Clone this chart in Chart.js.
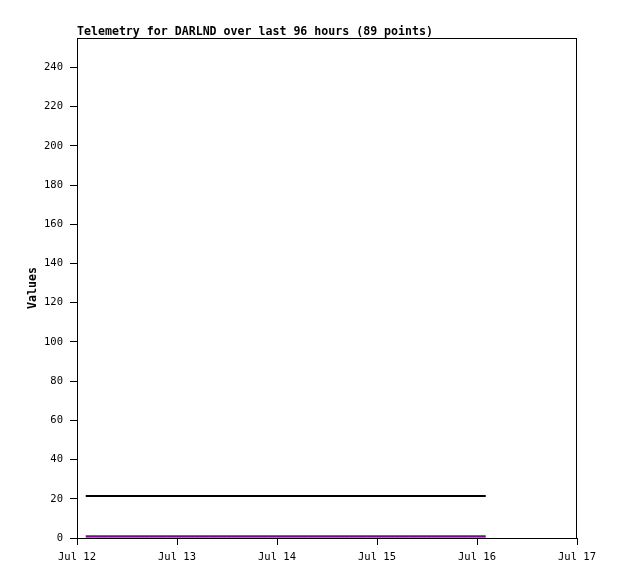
<!DOCTYPE html>
<html lang="en">
	<head>
		<meta charset="UTF-8" />
		<title>Telemetry</title>
		<script src="https://cdn.jsdelivr.net/npm/chart.js"></script>
		<style>
			html,
			body {
				margin: 0;
				padding: 0;
				background: #ffffff;
			}
			#chart {
				display: block;
			}
		</style>
	</head>
	<body>
		<canvas id="chart" width="618" height="579"></canvas>

		<script>
			// x axis: hours since Jul 12 00:00, one tick per day
			var dayLabels = ["Jul 12", "Jul 13", "Jul 14", "Jul 15", "Jul 16", "Jul 17"];
			var firstHour = 2.1; // first sample
			var sampleStep = 96 / 88; // 89 samples over 96 hours

			// three flat telemetry series, 89 samples each
			var blackValues = [
				21.4, 21.4, 21.4, 21.4, 21.4, 21.4, 21.4, 21.4, 21.4, 21.4,
				21.4, 21.4, 21.4, 21.4, 21.4, 21.4, 21.4, 21.4, 21.4, 21.4,
				21.4, 21.4, 21.4, 21.4, 21.4, 21.4, 21.4, 21.4, 21.4, 21.4,
				21.4, 21.4, 21.4, 21.4, 21.4, 21.4, 21.4, 21.4, 21.4, 21.4,
				21.4, 21.4, 21.4, 21.4, 21.4, 21.4, 21.4, 21.4, 21.4, 21.4,
				21.4, 21.4, 21.4, 21.4, 21.4, 21.4, 21.4, 21.4, 21.4, 21.4,
				21.4, 21.4, 21.4, 21.4, 21.4, 21.4, 21.4, 21.4, 21.4, 21.4,
				21.4, 21.4, 21.4, 21.4, 21.4, 21.4, 21.4, 21.4, 21.4, 21.4,
				21.4, 21.4, 21.4, 21.4, 21.4, 21.4, 21.4, 21.4, 21.4,
			];
			var purpleValues = [
				0.9, 0.9, 0.9, 0.9, 0.9, 0.9, 0.9, 0.9, 0.9, 0.9,
				0.9, 0.9, 0.9, 0.9, 0.9, 0.9, 0.9, 0.9, 0.9, 0.9,
				0.9, 0.9, 0.9, 0.9, 0.9, 0.9, 0.9, 0.9, 0.9, 0.9,
				0.9, 0.9, 0.9, 0.9, 0.9, 0.9, 0.9, 0.9, 0.9, 0.9,
				0.9, 0.9, 0.9, 0.9, 0.9, 0.9, 0.9, 0.9, 0.9, 0.9,
				0.9, 0.9, 0.9, 0.9, 0.9, 0.9, 0.9, 0.9, 0.9, 0.9,
				0.9, 0.9, 0.9, 0.9, 0.9, 0.9, 0.9, 0.9, 0.9, 0.9,
				0.9, 0.9, 0.9, 0.9, 0.9, 0.9, 0.9, 0.9, 0.9, 0.9,
				0.9, 0.9, 0.9, 0.9, 0.9, 0.9, 0.9, 0.9, 0.9,
			];
			var cyanValues = [
				0.2, 0.2, 0.2, 0.2, 0.2, 0.2, 0.2, 0.2, 0.2, 0.2,
				0.2, 0.2, 0.2, 0.2, 0.2, 0.2, 0.2, 0.2, 0.2, 0.2,
				0.2, 0.2, 0.2, 0.2, 0.2, 0.2, 0.2, 0.2, 0.2, 0.2,
				0.2, 0.2, 0.2, 0.2, 0.2, 0.2, 0.2, 0.2, 0.2, 0.2,
				0.2, 0.2, 0.2, 0.2, 0.2, 0.2, 0.2, 0.2, 0.2, 0.2,
				0.2, 0.2, 0.2, 0.2, 0.2, 0.2, 0.2, 0.2, 0.2, 0.2,
				0.2, 0.2, 0.2, 0.2, 0.2, 0.2, 0.2, 0.2, 0.2, 0.2,
				0.2, 0.2, 0.2, 0.2, 0.2, 0.2, 0.2, 0.2, 0.2, 0.2,
				0.2, 0.2, 0.2, 0.2, 0.2, 0.2, 0.2, 0.2, 0.2,
			];

			var titleText = "Telemetry for DARLND over last 96 hours (89 points)";
			var yTitle = "Values";
			var monoFont = "'DejaVu Sans Mono', 'Liberation Mono', monospace";

			function toPoints(values) {
				return values.map(function (v, i) {
					return { x: firstHour + i * sampleStep, y: v };
				});
			}

			// frame, title and rotated y title
			var framePlugin = {
				id: "frame",
				afterDraw: function (chart) {
					var ctx = chart.ctx;
					var a = chart.chartArea;
					ctx.save();
					ctx.strokeStyle = "#000000";
					ctx.lineWidth = 1;
					ctx.strokeRect(a.left + 0.5, a.top + 0.5, a.right - a.left - 1, a.bottom - a.top);
					ctx.fillStyle = "#000000";
					ctx.font = "bold 11.6px " + monoFont;
					ctx.textAlign = "left";
					ctx.textBaseline = "alphabetic";
					ctx.fillText(titleText, a.left, 35);
					ctx.translate(36, (a.top + a.bottom) / 2);
					ctx.rotate(-Math.PI / 2);
					ctx.textAlign = "center";
					ctx.fillText(yTitle, 0, 0);
					ctx.restore();
				},
			};

			var ctx = document.getElementById("chart").getContext("2d");
			var chart = new Chart(ctx, {
				type: "line",
				plugins: [framePlugin],
				data: {
					datasets: [
						{
							data: toPoints(cyanValues),
							borderColor: "#1aa3e8",
							borderWidth: 1,
							pointRadius: 0,
						},
						{
							data: toPoints(purpleValues),
							borderColor: "#7a0a8c",
							borderWidth: 2,
							pointRadius: 0,
						},
						{
							data: toPoints(blackValues),
							borderColor: "#000000",
							borderWidth: 2,
							pointRadius: 0,
						},
					],
				},
				options: {
					responsive: false,
					animation: false,
					layout: {
						padding: { left: 0, right: 41, top: 38, bottom: 0 },
					},
					plugins: {
						legend: { display: false },
						tooltip: { enabled: false },
					},
					scales: {
						x: {
							type: "linear",
							min: 0,
							max: 120,
							afterFit: function (scale) {
								scale.height = 41;
							},
							afterBuildTicks: function (scale) {
								scale.ticks = dayLabels.map(function (d, i) {
									return { value: i * 24 };
								});
							},
							ticks: {
								color: "#000000",
								font: { family: monoFont, size: 10.5 },
								padding: 6,
								maxRotation: 0,
								autoSkip: false,
								callback: function (value) {
									return dayLabels[Math.round(value / 24)];
								},
							},
							grid: {
								drawOnChartArea: false,
								color: "#000000",
								tickLength: 7,
							},
							border: { color: "#000000" },
						},
						y: {
							min: 0,
							max: 255,
							afterFit: function (scale) {
								scale.width = 77;
							},
							afterBuildTicks: function (scale) {
								var t = [];
								for (var v = 0; v <= 240; v += 20) t.push({ value: v });
								scale.ticks = t;
							},
							ticks: {
								color: "#000000",
								font: { family: monoFont, size: 10.5 },
								padding: 7,
							},
							grid: {
								drawOnChartArea: false,
								color: "#000000",
								tickLength: 7,
							},
							border: { color: "#000000" },
						},
					},
				},
			});
		</script>
	</body>
</html>
